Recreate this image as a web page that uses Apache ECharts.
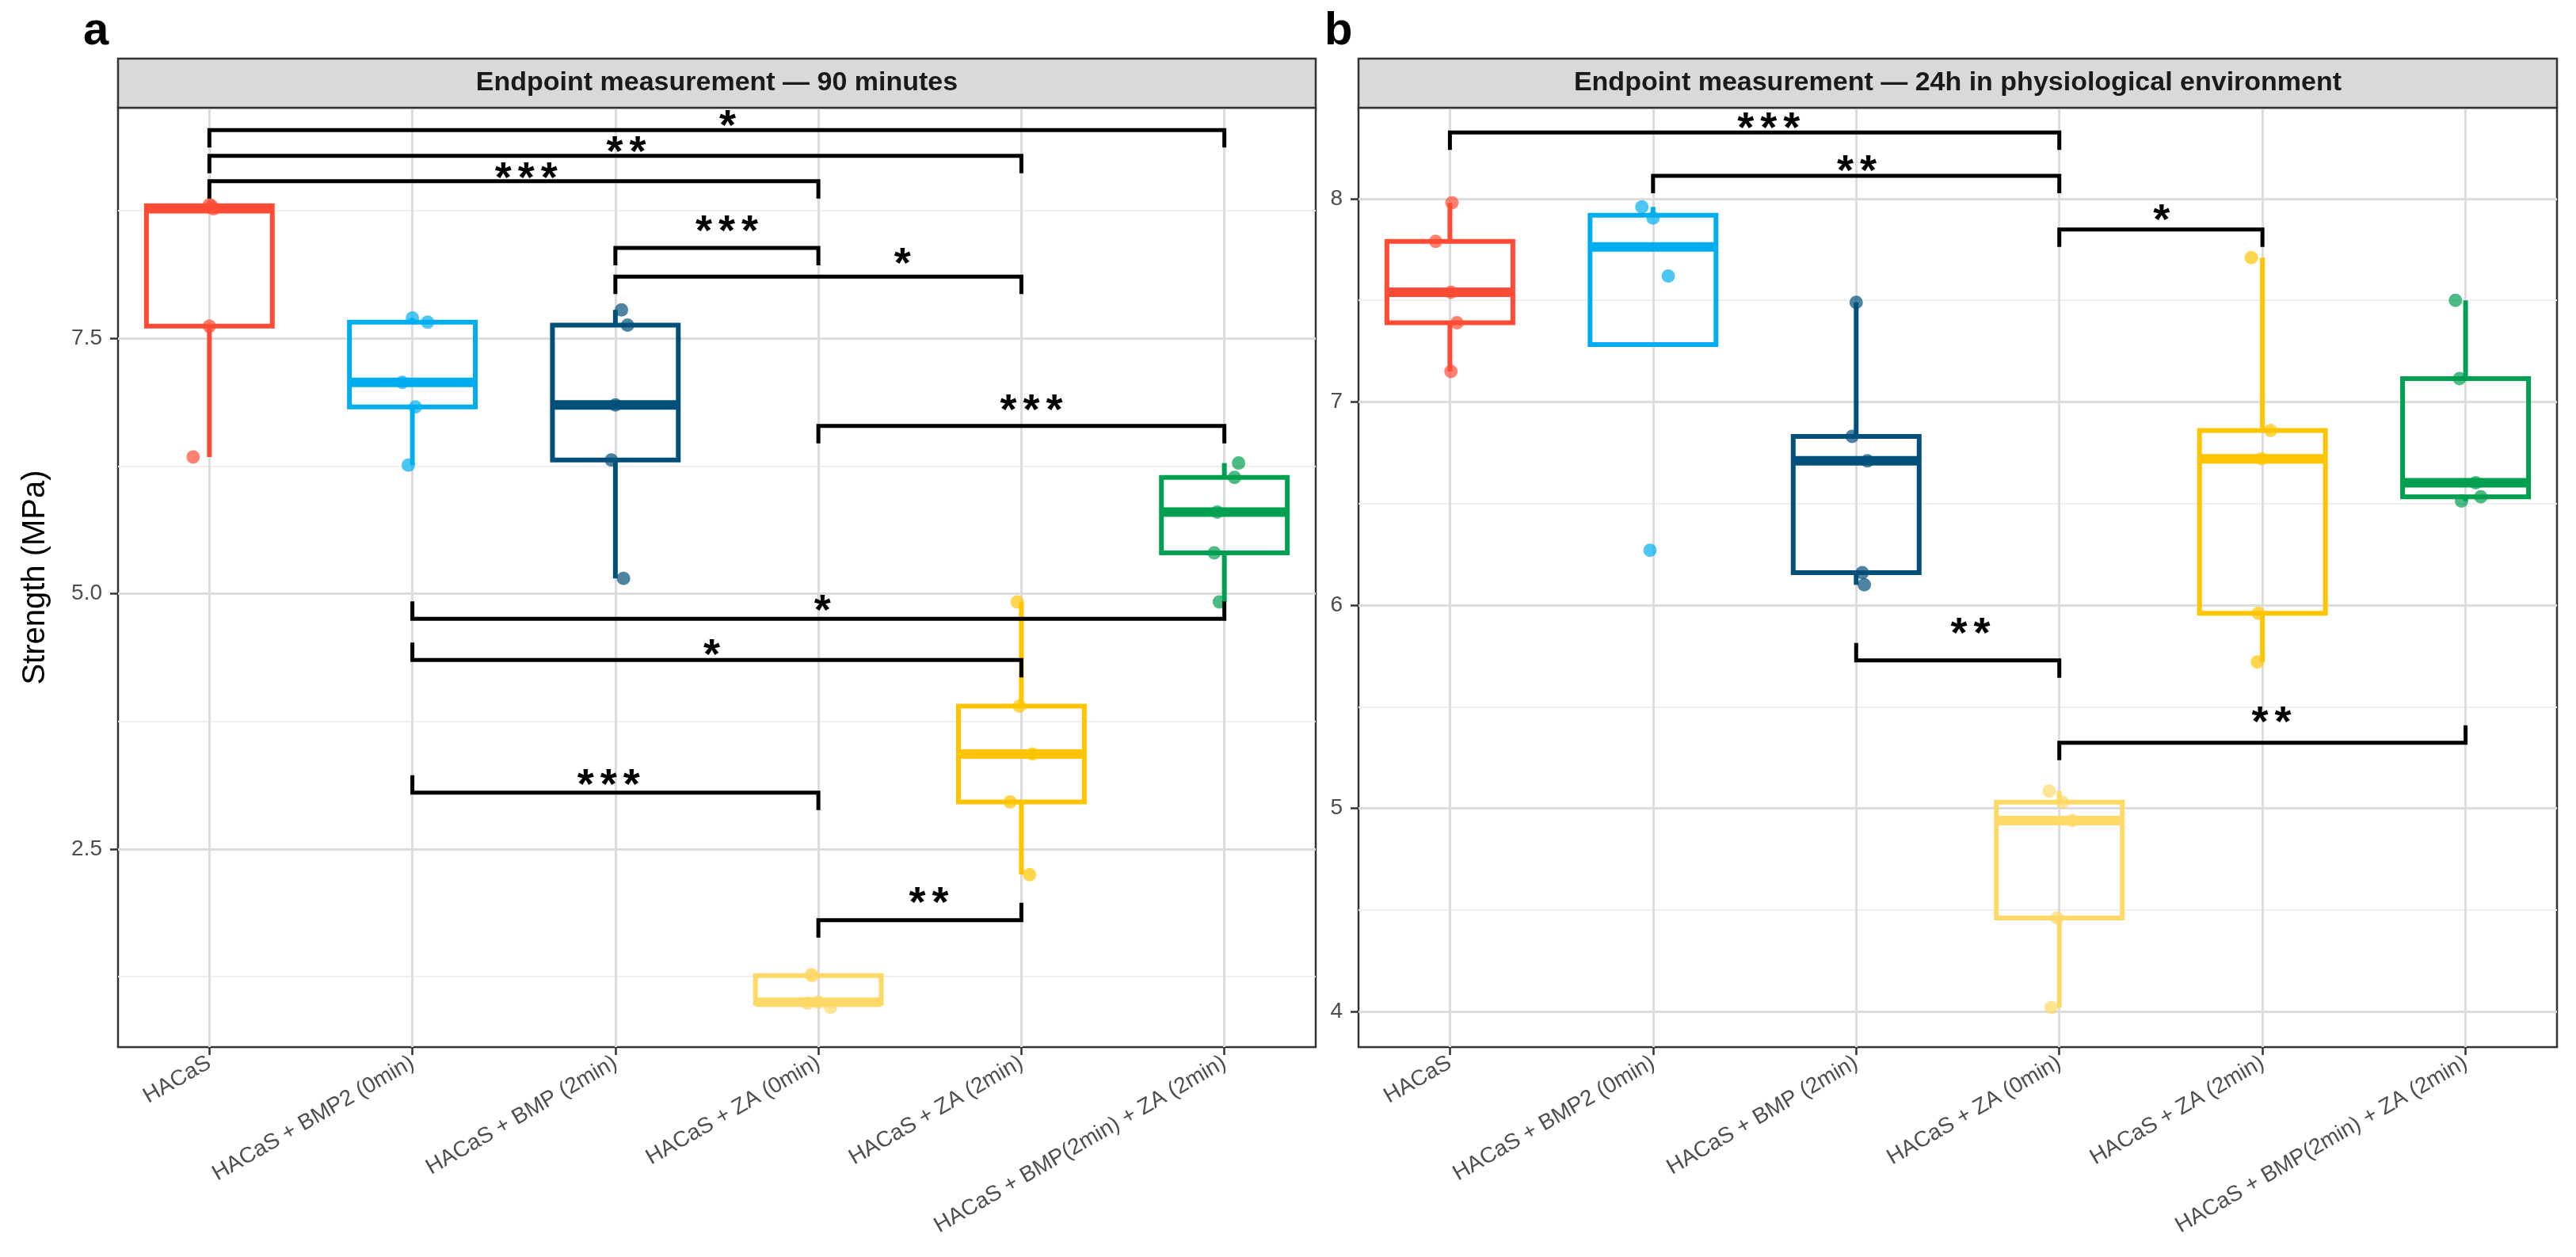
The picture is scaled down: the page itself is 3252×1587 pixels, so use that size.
<!DOCTYPE html>
<html>
<head>
<meta charset="utf-8">
<script src="https://cdn.jsdelivr.net/npm/echarts@6/dist/echarts.min.js"></script>
<style>html,body{margin:0;padding:0;background:#fff}#c{width:3252px;height:1587px}</style>
</head>
<body>
<div id="c"></div>
<script>
// ---------------- DATA ----------------
const categories = ['HACaS', 'HACaS + BMP2 (0min)', 'HACaS + BMP (2min)', 'HACaS + ZA (0min)', 'HACaS + ZA (2min)', 'HACaS + BMP(2min) + ZA (2min)'];
const panelTitles = ['Endpoint measurement \u2014 90 minutes', 'Endpoint measurement \u2014 24h in physiological environment'];
const panelLetters = ['a', 'b'];
const yTitle = 'Strength (MPa)';

// Panel a: strength values (MPa) per group
const a_HACaS   = [6.34, 7.62, 8.77, 8.80, 8.81];
const a_BMP2_0  = [6.26, 6.83, 7.07, 7.66, 7.70];
const a_BMP_2   = [5.15, 6.31, 6.85, 7.63, 7.78];
const a_ZA_0    = [0.95, 0.99, 1.00, 1.26, 1.27];
const a_ZA_2    = [2.25, 2.96, 3.43, 3.90, 4.92];
const a_BMP_ZA  = [4.92, 5.40, 5.80, 6.14, 6.28];
// horizontal jitter of the points (category units), same order as values
const a_jitter = [
  [-0.08, 0.0, 0.02, 0.01, 0.0],
  [-0.02, 0.015, -0.05, 0.075, 0.0],
  [0.04, -0.02, 0.0, 0.06, 0.03],
  [0.06, -0.055, 0.0, -0.03, -0.035],
  [0.04, -0.055, 0.055, -0.01, -0.02],
  [-0.025, -0.05, -0.035, 0.05, 0.07]
];

// Panel b: strength values (MPa) per group
const b_HACaS   = [7.15, 7.39, 7.54, 7.79, 7.98];
const b_BMP2_0  = [6.27, 7.62, 7.905, 7.96];
const b_BMP_2   = [6.10, 6.16, 6.71, 6.83, 7.49];
const b_ZA_0    = [4.02, 4.46, 4.94, 5.03, 5.085];
const b_ZA_2    = [5.72, 5.96, 6.72, 6.86, 7.71];
const b_BMP_ZA  = [6.513, 6.533, 6.602, 7.115, 7.50];
const b_jitter = [
  [0.005, 0.035, 0.005, -0.07, 0.01],
  [-0.015, 0.075, 0.0, -0.055],
  [0.04, 0.03, 0.055, -0.02, 0.0],
  [-0.04, -0.01, 0.065, 0.015, -0.05],
  [-0.025, -0.02, -0.005, 0.04, -0.055],
  [-0.02, 0.075, 0.05, -0.03, -0.05]
];

// significance brackets: [fromGroup, toGroup, lineY, tipLeft(+1 down/-1 up), tipRight, labelX, labelY]
const bracketsA = [
  [1, 6, 9.540, 1, 1, 3.553, 9.650],
  [1, 5, 9.289, 1, 1, 3.053, 9.395],
  [1, 4, 9.041, 1, 1, 2.561, 9.142],
  [3, 4, 8.387, 1, 1, 3.549, 8.622],
  [3, 5, 8.106, 1, 1, 4.414, 8.304],
  [4, 6, 6.644, 1, 1, 5.049, 6.866],
  [2, 6, 4.755, -1, -1, 4.020, 4.906],
  [2, 5, 4.352, -1, 1, 3.475, 4.467],
  [2, 4, 3.052, -1, 1, 2.966, 3.193],
  [4, 5, 1.803, 1, -1, 4.544, 2.038]
];
const bracketLabelsA = ['*', '**', '***', '***', '*', '***', '*', '*', '***', '**'];
const bracketsB = [
  [1, 4, 8.326, 1, 1, 2.569, 8.380],
  [2, 4, 8.113, 1, 1, 3.003, 8.172],
  [4, 5, 7.849, 1, 1, 4.503, 7.930],
  [3, 4, 5.728, -1, 1, 3.562, 5.893],
  [4, 6, 5.323, 1, -1, 5.044, 5.458]
];
const bracketLabelsB = ['***', '**', '*', '**', '**'];

// axes
const yRangeA = [0.56, 9.76];
const yTicksA = [2.5, 5.0, 7.5];
const yMinorA = [1.25, 3.75, 6.25, 8.75];
const yRangeB = [3.825, 8.448];
const yTicksB = [4, 5, 6, 7, 8];
const yMinorB = [4.5, 5.5, 6.5, 7.5];
const xPositions = [1, 2, 3, 4, 5, 6];

// ---------------- STYLE ----------------
const groupColors = ['#FF4B35', '#00AEEF', '#02507A', '#FFD966', '#FFC400', '#00A050'];
const FONT = '"Liberation Sans", Arial, Helvetica, sans-serif';
const GRID_TOP = 136, GRID_H = 1186;
const GA = { left: 149, width: 1512 };
const GB = { left: 1715, width: 1513 };
const STRIP_TOP = 74, STRIP_H = 62;
const BOX_HALF = 0.31;
const BOX_LW = 6, MED_LW = 12;
const TIP = 22;
const STAR_FS = 54, STAR_GAP = 29, STAR_DY = 11;

// ---------------- HELPERS ----------------
function quant(s, p) {
  const h = (s.length - 1) * p, lo = Math.floor(h), hi = Math.ceil(h);
  return s[lo] + (h - lo) * (s[hi] - s[lo]);
}
function boxStats(vals) {
  const s = vals.slice().sort((a, b) => a - b);
  const q1 = quant(s, 0.25), med = quant(s, 0.5), q3 = quant(s, 0.75);
  const iqr = q3 - q1;
  const inl = s.filter(v => v >= q1 - 1.5 * iqr && v <= q3 + 1.5 * iqr);
  return [Math.min(q1, ...inl), q1, med, q3, Math.max(q3, ...inl)];
}
function boxData(groups) {
  return groups.map((g, i) => [xPositions[i]].concat(boxStats(g)));
}
function pointData(groups, jit) {
  const out = [];
  groups.forEach((g, i) => g.forEach((v, j) => out.push({
    value: [xPositions[i] + jit[i][j], v],
    itemStyle: { color: groupColors[i], opacity: 0.7 }
  })));
  return out;
}
function renderBox(params, api) {
  const x = api.value(0), lo = api.value(1), q1 = api.value(2), med = api.value(3), q3 = api.value(4), hi = api.value(5);
  const color = groupColors[params.dataIndex];
  const tl = api.coord([x - BOX_HALF, q3]), br = api.coord([x + BOX_HALF, q1]);
  const mL = api.coord([x - BOX_HALF, med]), mR = api.coord([x + BOX_HALF, med]);
  const pHi = api.coord([x, hi]), pQ3 = api.coord([x, q3]), pQ1 = api.coord([x, q1]), pLo = api.coord([x, lo]);
  const ls = { stroke: color, lineWidth: BOX_LW, fill: null };
  return {
    type: 'group',
    children: [
      { type: 'line', shape: { x1: pHi[0], y1: pHi[1], x2: pQ3[0], y2: pQ3[1] }, style: ls },
      { type: 'line', shape: { x1: pQ1[0], y1: pQ1[1], x2: pLo[0], y2: pLo[1] }, style: ls },
      { type: 'rect', shape: { x: tl[0], y: tl[1], width: br[0] - tl[0], height: br[1] - tl[1] }, style: { stroke: color, lineWidth: BOX_LW, fill: 'rgba(0,0,0,0)', lineJoin: 'miter' } },
      { type: 'line', shape: { x1: mL[0], y1: mL[1], x2: mR[0], y2: mR[1] }, style: { stroke: color, lineWidth: MED_LW } }
    ]
  };
}
function makeBracketRender(labels) {
  return function (params, api) {
    const from = api.value(0), to = api.value(1), y = api.value(2), tl = api.value(3), tr = api.value(4), lx = api.value(5), ly = api.value(6);
    const p1 = api.coord([from, y]), p2 = api.coord([to, y]);
    const children = [{
      type: 'polyline',
      shape: { points: [[p1[0], p1[1] + tl * TIP], [p1[0], p1[1]], [p2[0], p2[1]], [p2[0], p2[1] + tr * TIP]] },
      style: { stroke: '#000', lineWidth: 5, fill: null, lineJoin: 'miter' }
    }];
    const lp = api.coord([lx, ly]);
    const chars = labels[params.dataIndex].split('');
    chars.forEach((ch, i) => {
      children.push({
        type: 'text',
        x: lp[0] + (i - (chars.length - 1) / 2) * STAR_GAP,
        y: lp[1] + STAR_DY,
        style: { text: ch, font: 'bold ' + STAR_FS + 'px ' + FONT, fill: '#000', align: 'center', verticalAlign: 'middle', textAlign: 'center', textVerticalAlign: 'middle' }
      });
    });
    return { type: 'group', children };
  };
}

const groupsA = [a_HACaS, a_BMP2_0, a_BMP_2, a_ZA_0, a_ZA_2, a_BMP_ZA];
const groupsB = [b_HACaS, b_BMP2_0, b_BMP_2, b_ZA_0, b_ZA_2, b_BMP_ZA];

function xAxisCfg(gi) {
  return {
    type: 'value', gridIndex: gi, min: 0.55, max: 6.45,
    axisLine: { show: false },
    axisTick: { show: true, customValues: xPositions, length: 10, lineStyle: { color: '#333', width: 2.5 } },
    axisLabel: {
      show: true, customValues: xPositions, rotate: 30, margin: 18,
      formatter: v => categories[Math.round(v) - 1],
      fontSize: 28, color: '#4D4D4D', fontFamily: FONT
    },
    splitLine: { show: true, lineStyle: { color: '#DCDCDC', width: 3 } }
  };
}
function yAxisMajor(gi, range, ticks, dec, withName) {
  return {
    type: 'value', gridIndex: gi, min: range[0], max: range[1],
    name: withName ? yTitle : '', nameLocation: 'middle', nameGap: 84,
    nameTextStyle: { fontSize: 40, color: '#000', fontFamily: FONT },
    axisLine: { show: false },
    axisTick: { show: true, customValues: ticks, length: 10, lineStyle: { color: '#333', width: 2.5 } },
    axisLabel: { show: true, customValues: ticks, margin: 20, formatter: v => v.toFixed(dec), fontSize: 28, color: '#4D4D4D', fontFamily: FONT },
    splitLine: { show: true, lineStyle: { color: '#DCDCDC', width: 3 } }
  };
}
function yAxisMinor(gi, range, ticks) {
  return {
    type: 'value', gridIndex: gi, min: range[0], max: range[1], position: 'left',
    axisLine: { show: false },
    axisTick: { show: false, customValues: ticks },
    axisLabel: { show: false, customValues: ticks },
    splitLine: { show: true, lineStyle: { color: '#EFEFEF', width: 2 } }
  };
}

const gridCommon = { top: GRID_TOP, height: GRID_H, show: true, borderColor: '#333', borderWidth: 2.5, backgroundColor: 'rgba(0,0,0,0)', containLabel: false, outerBoundsMode: 'none' };

const option = {
  animation: false,
  backgroundColor: '#ffffff',
  grid: [
    Object.assign({ left: GA.left, width: GA.width }, gridCommon),
    Object.assign({ left: GB.left, width: GB.width }, gridCommon)
  ],
  xAxis: [xAxisCfg(0), xAxisCfg(1)],
  yAxis: [
    yAxisMajor(0, yRangeA, yTicksA, 1, true),
    yAxisMinor(0, yRangeA, yMinorA),
    yAxisMajor(1, yRangeB, yTicksB, 0, false),
    yAxisMinor(1, yRangeB, yMinorB)
  ],
  graphic: [
    { type: 'rect', z: 100, shape: { x: GA.left, y: STRIP_TOP, width: GA.width, height: STRIP_H }, style: { fill: '#D9D9D9', stroke: '#333', lineWidth: 2.5 } },
    { type: 'rect', z: 100, shape: { x: GB.left, y: STRIP_TOP, width: GB.width, height: STRIP_H }, style: { fill: '#D9D9D9', stroke: '#333', lineWidth: 2.5 } },
    { type: 'text', z: 101, x: GA.left + GA.width / 2, y: STRIP_TOP + STRIP_H / 2, style: { text: panelTitles[0], font: 'bold 34px ' + FONT, fill: '#1A1A1A', align: 'center', verticalAlign: 'middle', textAlign: 'center', textVerticalAlign: 'middle' } },
    { type: 'text', z: 101, x: GB.left + GB.width / 2, y: STRIP_TOP + STRIP_H / 2, style: { text: panelTitles[1], font: 'bold 34px ' + FONT, fill: '#1A1A1A', align: 'center', verticalAlign: 'middle', textAlign: 'center', textVerticalAlign: 'middle' } },
    { type: 'text', z: 101, x: 105, y: 40, style: { text: panelLetters[0], font: 'bold 58px ' + FONT, fill: '#000', align: 'left', verticalAlign: 'middle', textAlign: 'left', textVerticalAlign: 'middle' } },
    { type: 'text', z: 101, x: 1672, y: 40, style: { text: panelLetters[1], font: 'bold 58px ' + FONT, fill: '#000', align: 'left', verticalAlign: 'middle', textAlign: 'left', textVerticalAlign: 'middle' } }
  ],
  series: [
    { type: 'custom', name: 'boxA', xAxisIndex: 0, yAxisIndex: 0, renderItem: renderBox, data: boxData(groupsA), clip: false, z: 2 },
    { type: 'scatter', name: 'ptsA', xAxisIndex: 0, yAxisIndex: 0, symbolSize: 17, data: pointData(groupsA, a_jitter), z: 3 },
    { type: 'custom', name: 'sigA', xAxisIndex: 0, yAxisIndex: 0, renderItem: makeBracketRender(bracketLabelsA), data: bracketsA, clip: false, z: 4 },
    { type: 'custom', name: 'boxB', xAxisIndex: 1, yAxisIndex: 2, renderItem: renderBox, data: boxData(groupsB), clip: false, z: 2 },
    { type: 'scatter', name: 'ptsB', xAxisIndex: 1, yAxisIndex: 2, symbolSize: 17, data: pointData(groupsB, b_jitter), z: 3 },
    { type: 'custom', name: 'sigB', xAxisIndex: 1, yAxisIndex: 2, renderItem: makeBracketRender(bracketLabelsB), data: bracketsB, clip: false, z: 4 }
  ]
};

const chart = echarts.init(document.getElementById('c'), null, { renderer: 'canvas', width: 3252, height: 1587 });
chart.setOption(option);
</script>
</body>
</html>
